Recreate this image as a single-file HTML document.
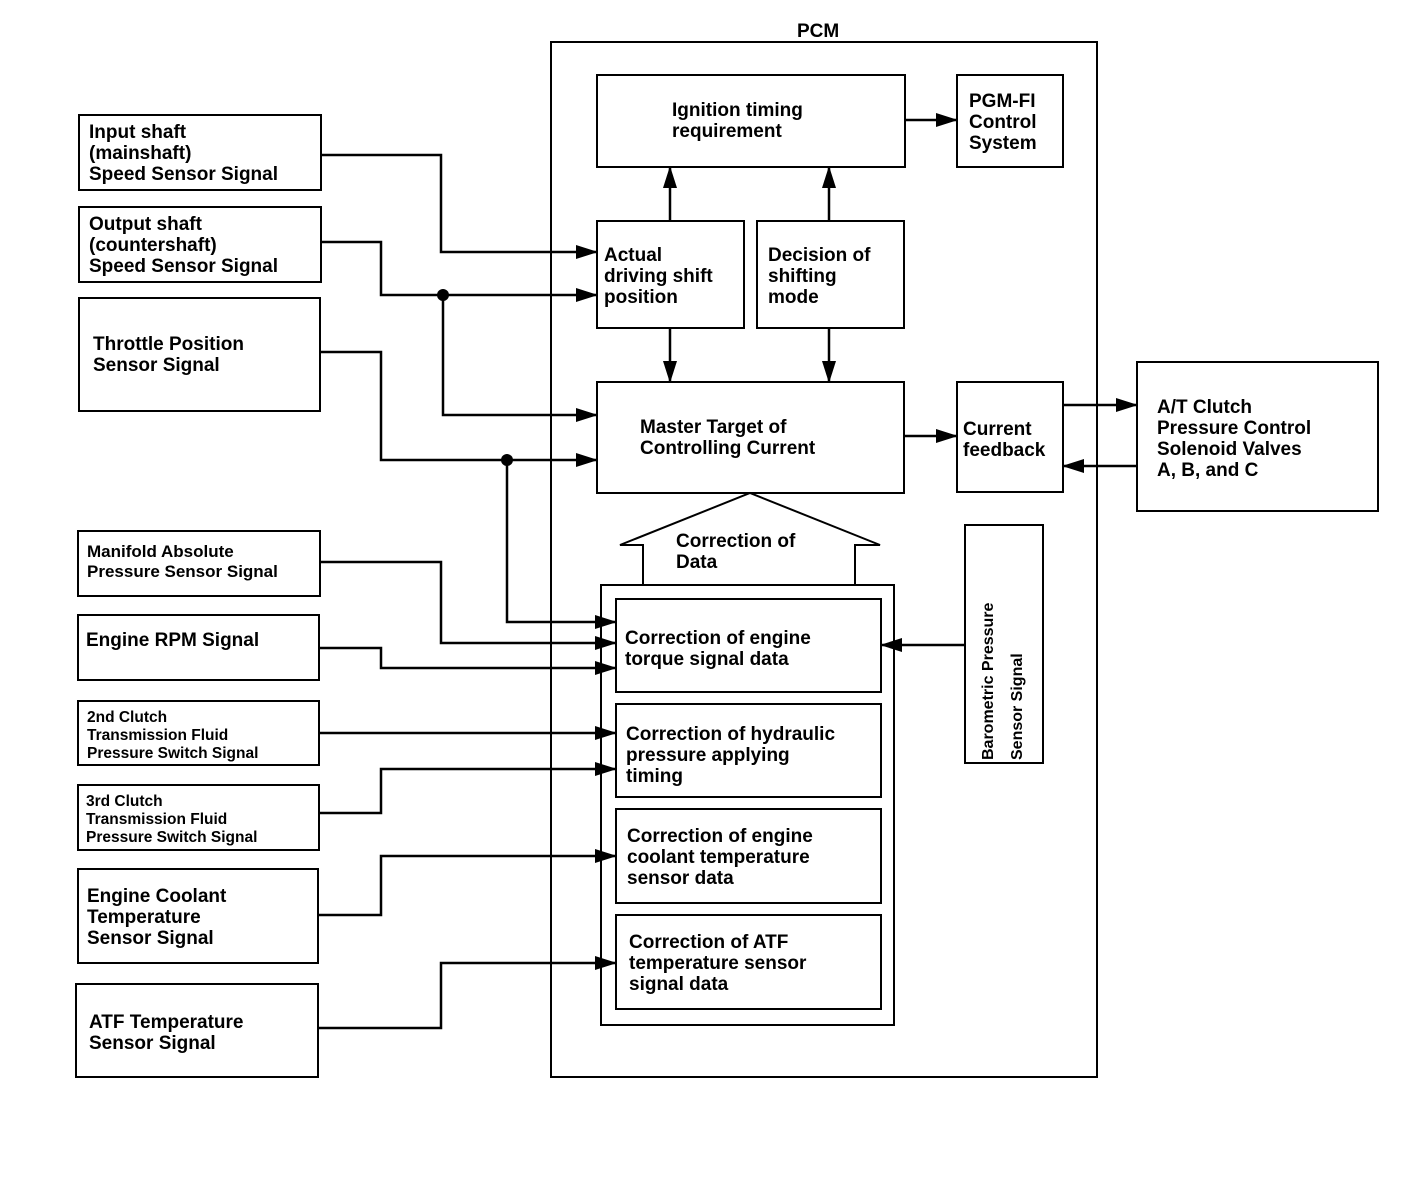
<!DOCTYPE html>
<html><head><meta charset="utf-8"><style>
body{margin:0;background:#fff}
svg text{font-family:"Liberation Sans",Arial,sans-serif;font-weight:bold;fill:#000}
</style></head><body>
<svg width="1408" height="1194" viewBox="0 0 1408 1194" xmlns="http://www.w3.org/2000/svg">
<defs><marker id="a" markerWidth="10" markerHeight="10" refX="9" refY="5" orient="auto" markerUnits="userSpaceOnUse"><path d="M0,0 L10,5 L0,10 z" fill="#000"/></marker>
<marker id="b" markerWidth="22" markerHeight="14" refX="21" refY="7" orient="auto" markerUnits="userSpaceOnUse"><path d="M0,0 L22,7 L0,14 z" fill="#000"/></marker></defs>
<g fill="none" stroke="#000" stroke-width="2">
<rect x="551" y="42" width="546" height="1035"/>
<rect x="597" y="75" width="308" height="92"/>
<rect x="957" y="75" width="106" height="92"/>
<rect x="597" y="221" width="147" height="107"/>
<rect x="757" y="221" width="147" height="107"/>
<rect x="597" y="382" width="307" height="111"/>
<rect x="957" y="382" width="106" height="110"/>
<rect x="1137" y="362" width="241" height="149"/>
<path d="M643,585 V545 H620 L750,493 L880,545 H855 V585"/>
<rect x="601" y="585" width="293" height="440"/>
<rect x="616" y="599" width="265" height="93"/>
<rect x="616" y="704" width="265" height="93"/>
<rect x="616" y="809" width="265" height="94"/>
<rect x="616" y="915" width="265" height="94"/>
<rect x="965" y="525" width="78" height="238"/>
<rect x="79" y="115" width="242" height="75"/>
<rect x="79" y="207" width="242" height="75"/>
<rect x="79" y="298" width="241" height="113"/>
<rect x="78" y="531" width="242" height="65"/>
<rect x="78" y="615" width="241" height="65"/>
<rect x="78" y="701" width="241" height="64"/>
<rect x="78" y="785" width="241" height="65"/>
<rect x="78" y="869" width="240" height="94"/>
<rect x="76" y="984" width="242" height="93"/>
</g>
<g fill="none" stroke="#000" stroke-width="2.5">
<path d="M321,155 H441 V252 H597" marker-end="url(#b)"/>
<path d="M321,242 H381 V295 H597" marker-end="url(#b)"/>
<path d="M443,295 V415 H597" marker-end="url(#b)"/>
<path d="M320,352 H381 V460 H597" marker-end="url(#b)"/>
<path d="M507,460 V622 H616" marker-end="url(#b)"/>
<path d="M320,562 H441 V643 H616" marker-end="url(#b)"/>
<path d="M319,648 H381 V668 H616" marker-end="url(#b)"/>
<path d="M319,733 H616" marker-end="url(#b)"/>
<path d="M319,813 H381 V769 H616" marker-end="url(#b)"/>
<path d="M318,915 H381 V856 H616" marker-end="url(#b)"/>
<path d="M318,1028 H441 V963 H616" marker-end="url(#b)"/>
<path d="M670,221 V167" marker-end="url(#b)"/>
<path d="M829,221 V167" marker-end="url(#b)"/>
<path d="M670,328 V382" marker-end="url(#b)"/>
<path d="M829,328 V382" marker-end="url(#b)"/>
<path d="M905,120 H957" marker-end="url(#b)"/>
<path d="M904,436 H957" marker-end="url(#b)"/>
<path d="M1063,405 H1137" marker-end="url(#b)"/>
<path d="M1137,466 H1063" marker-end="url(#b)"/>
<path d="M965,645 H881" marker-end="url(#b)"/>
</g>
<circle cx="443" cy="295" r="6"/><circle cx="507" cy="460" r="6"/>
<g font-size="19">
<text x="797" y="37">PCM</text>
<text x="672" y="116">Ignition timing</text><text x="672" y="137">requirement</text>
<text x="969" y="107">PGM-FI</text><text x="969" y="128">Control</text><text x="969" y="149">System</text>
<text x="604" y="261">Actual</text><text x="604" y="282">driving shift</text><text x="604" y="303">position</text>
<text x="768" y="261">Decision of</text><text x="768" y="282">shifting</text><text x="768" y="303">mode</text>
<text x="640" y="433">Master Target of</text><text x="640" y="454">Controlling Current</text>
<text x="963" y="435">Current</text><text x="963" y="456">feedback</text>
<text x="1157" y="413">A/T Clutch</text><text x="1157" y="434">Pressure Control</text><text x="1157" y="455">Solenoid Valves</text><text x="1157" y="476">A, B, and C</text>
<text x="676" y="547">Correction of</text><text x="676" y="568">Data</text>
<text x="625" y="644">Correction of engine</text><text x="625" y="665">torque signal data</text>
<text x="626" y="740">Correction of hydraulic</text><text x="626" y="761">pressure applying</text><text x="626" y="782">timing</text>
<text x="627" y="842">Correction of engine</text><text x="627" y="863">coolant temperature</text><text x="627" y="884">sensor data</text>
<text x="629" y="948">Correction of ATF</text><text x="629" y="969">temperature sensor</text><text x="629" y="990">signal data</text>
<text x="89" y="138">Input shaft</text><text x="89" y="159">(mainshaft)</text><text x="89" y="180">Speed Sensor Signal</text>
<text x="89" y="230">Output shaft</text><text x="89" y="251">(countershaft)</text><text x="89" y="272">Speed Sensor Signal</text>
<text x="93" y="350">Throttle Position</text><text x="93" y="371">Sensor Signal</text>
<text x="86" y="646">Engine RPM Signal</text>
<text x="87" y="902">Engine Coolant</text><text x="87" y="923">Temperature</text><text x="87" y="944">Sensor Signal</text>
<text x="89" y="1028">ATF Temperature</text><text x="89" y="1049">Sensor Signal</text>
</g>
<g font-size="17">
<text x="87" y="557">Manifold Absolute</text><text x="87" y="577">Pressure Sensor Signal</text>
</g>
<g font-size="15.5">
<text x="87" y="722">2nd Clutch</text><text x="87" y="740">Transmission Fluid</text><text x="87" y="758">Pressure Switch Signal</text>
<text x="86" y="806">3rd Clutch</text><text x="86" y="824">Transmission Fluid</text><text x="86" y="842">Pressure Switch Signal</text>
<text transform="translate(993,760) rotate(-90)" font-size="16">Barometric Pressure</text>
<text transform="translate(1022,760) rotate(-90)" font-size="16">Sensor Signal</text>
</g>
</svg>
</body></html>
